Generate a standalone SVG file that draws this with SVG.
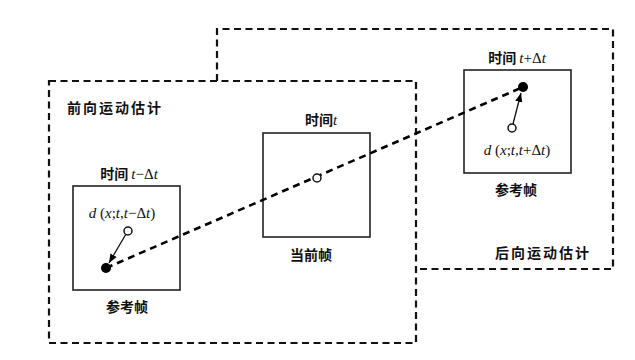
<svg xmlns="http://www.w3.org/2000/svg" width="635" height="360" viewBox="0 0 635 360">
<defs>
<style>
.region{fill:none;stroke:#111;stroke-width:2.2;stroke-dasharray:7 4.5}
.frame{fill:#fff;stroke:#222;stroke-width:1.6}
.cjk{font-family:"Noto Sans CJK SC","Noto Sans",sans-serif;font-weight:bold;fill:#111}
.lbl{font-family:"Liberation Serif","Noto Sans CJK SC",serif;font-size:15px;fill:#111}
.it{font-style:italic}
.open{fill:#fff;stroke:#111;stroke-width:1.5}
.dot{fill:#000}
.track{fill:none;stroke:#000;stroke-width:2.6;stroke-dasharray:7 5}
.vec{stroke:#111;stroke-width:1.3;fill:none}
</style>
<marker id="ah" viewBox="0 0 10 10" refX="10" refY="5" markerWidth="9" markerHeight="9" markerUnits="userSpaceOnUse" orient="auto">
<path d="M0,1 L10,5 L0,9 Z" fill="#000"/>
</marker>
</defs>
<rect width="635" height="360" fill="#fff"/>

<g id="forward-region">
<rect class="region" x="49" y="81" width="367" height="262"/>
<text class="cjk" x="67" y="113" font-size="14" letter-spacing="2">前向运动估计</text>
</g>

<g id="backward-region">
<polyline class="region" points="217,81 217,29 613,29 613,269 416,269"/>
<text class="cjk" x="495" y="258" font-size="14" letter-spacing="2">后向运动估计</text>
</g>

<g id="ref-frame-prev">
<rect class="frame" x="73" y="186" width="107" height="104"/>
<text class="lbl" x="129" y="179" text-anchor="middle"><tspan class="cjk" font-size="14">时间 </tspan><tspan class="it">t</tspan>−Δ<tspan class="it">t</tspan></text>
<text class="lbl" x="122" y="218" text-anchor="middle"><tspan class="it">d</tspan> (<tspan class="it">x</tspan>;<tspan class="it">t</tspan>,<tspan class="it">t</tspan>−Δ<tspan class="it">t</tspan>)</text>
<text class="cjk" x="127" y="312" font-size="14" text-anchor="middle">参考帧</text>
</g>

<g id="current-frame">
<rect class="frame" x="263" y="133" width="107" height="104"/>
<text class="lbl" x="321" y="125" text-anchor="middle"><tspan class="cjk" font-size="14">时间</tspan><tspan class="it">t</tspan></text>
<text class="cjk" x="311" y="260" font-size="14" text-anchor="middle">当前帧</text>
</g>

<g id="ref-frame-next">
<rect class="frame" x="464" y="70" width="107" height="103"/>
<text class="lbl" x="517" y="63" text-anchor="middle"><tspan class="cjk" font-size="14">时间 </tspan><tspan class="it">t</tspan>+Δ<tspan class="it">t</tspan></text>
<text class="lbl" x="517" y="155" text-anchor="middle"><tspan class="it">d</tspan> (<tspan class="it">x</tspan>;<tspan class="it">t</tspan>,<tspan class="it">t</tspan>+Δ<tspan class="it">t</tspan>)</text>
<text class="cjk" x="516" y="195" font-size="14" text-anchor="middle">参考帧</text>
</g>

<g id="connectors">
<line class="track" x1="106" y1="268" x2="523" y2="87"/>
<line class="vec" x1="126" y1="234" x2="109" y2="263" marker-end="url(#ah)"/>
<line class="vec" x1="513" y1="124" x2="521" y2="93" marker-end="url(#ah)"/>
</g>

<g id="points">
<circle class="open" cx="128" cy="231" r="4"/>
<circle class="dot" cx="106" cy="268" r="5"/>
<circle class="open" cx="317" cy="178" r="4"/>
<circle class="open" cx="512" cy="128" r="4"/>
<circle class="dot" cx="523" cy="87" r="5"/>
</g>
</svg>
